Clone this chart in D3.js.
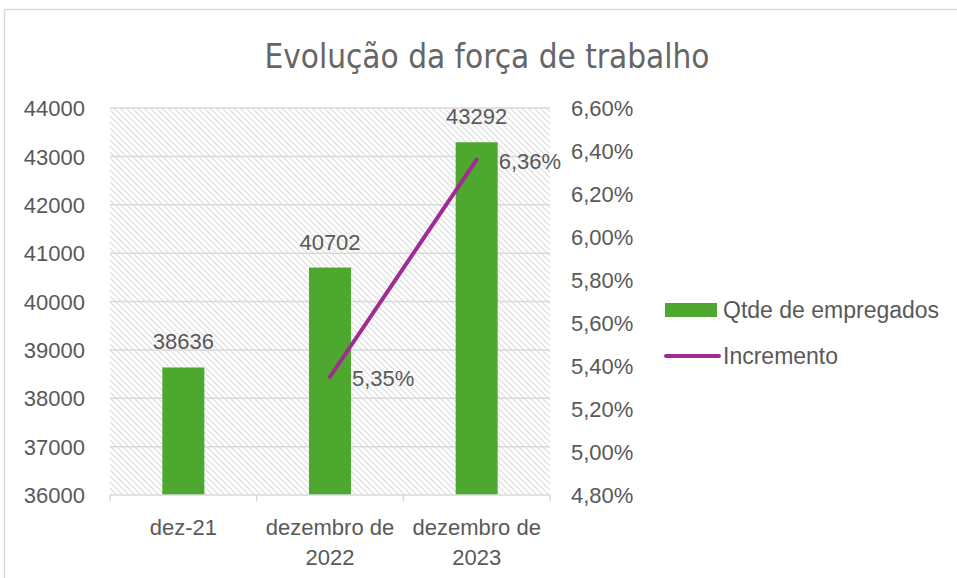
<!DOCTYPE html>
<html>
<head>
<meta charset="utf-8">
<script src="https://cdn.jsdelivr.net/npm/d3@7"></script>
<style>
  body { margin: 0; background: #fff; }
  svg text { font-family: "Liberation Sans", Arial, sans-serif; fill: #595959; }
</style>
</head>
<body>
<svg id="chart" width="957" height="578"></svg>
<script>
// data
var categories = [["dez-21"], ["dezembro de", "2022"], ["dezembro de", "2023"]];
var empregados = [38636, 40702, 43292];
var incremento = [null, 0.0535, 0.0636];
var leftTicks = [36000, 37000, 38000, 39000, 40000, 41000, 42000, 43000, 44000];
var rightTicks = [0.048, 0.050, 0.052, 0.054, 0.056, 0.058, 0.060, 0.062, 0.064, 0.066];
var seriesNames = ["Qtde de empregados", "Incremento"];

var green = "#4ea72e", purple = "#a02b93", grid = "#d9d9d9";
var svg = d3.select("#chart");

// plot area
var plotL = 110, plotR = 550, plotT = 108, plotB = 495;

var x = d3.scaleBand().domain(d3.range(categories.length)).range([plotL, plotR]);
var y = d3.scaleLinear().domain([36000, 44000]).range([plotB, plotT]);
var y2 = d3.scaleLinear().domain([0.048, 0.066]).range([plotB, plotT]);
var pct = function (v) { return d3.format(".2f")(v * 100).replace(".", ",") + "%"; };

// chart frame
svg.append("rect")
   .attr("x", 4.5).attr("y", 9.5)
   .attr("width", 980).attr("height", 600)
   .attr("fill", "none").attr("stroke", grid).attr("stroke-width", 1.5);

// diagonal hatch for the plot area
var pat = svg.append("defs").append("pattern")
   .attr("id", "hatch")
   .attr("patternUnits", "userSpaceOnUse")
   .attr("width", 6).attr("height", 6);
pat.append("path")
   .attr("d", "M-1,-1 L7,7 M-1,5 L1,7 M5,-1 L7,1")
   .attr("stroke", "#dcdcdc").attr("stroke-width", 1.2);

svg.append("rect")
   .attr("x", plotL).attr("y", plotT)
   .attr("width", plotR - plotL).attr("height", plotB - plotT)
   .attr("fill", "url(#hatch)");

// title
svg.append("text")
   .attr("x", 487).attr("y", 68)
   .attr("text-anchor", "middle")
   .style("font-family", "'Liberation Sans Narrow', 'DejaVu Sans Condensed', sans-serif")
   .style("font-size", "33px")
   .style("fill", "#666")
   .text("Evolução da força de trabalho");

// gridlines
svg.append("g").selectAll("line")
   .data(leftTicks.slice(1))
   .join("line")
   .attr("x1", plotL).attr("x2", plotR)
   .attr("y1", function (d) { return y(d); })
   .attr("y2", function (d) { return y(d); })
   .attr("stroke", grid).attr("stroke-width", 1.5);

// left axis
var gl = svg.append("g")
   .attr("transform", "translate(" + (plotL - 22) + ",0)")
   .call(d3.axisLeft(y).tickValues(leftTicks).tickSize(0).tickFormat(d3.format("d")));
gl.select(".domain").remove();
gl.selectAll("text").style("font-size", "22px").attr("dy", "0.35em");

// right axis
var gr = svg.append("g")
   .attr("transform", "translate(" + (plotR + 18) + ",0)")
   .call(d3.axisRight(y2).tickValues(rightTicks).tickSize(0).tickFormat(pct));
gr.select(".domain").remove();
gr.selectAll("text").style("font-size", "22px").attr("dy", "0.35em");

// bars
var barW = 42;
svg.append("g").selectAll("rect")
   .data(empregados)
   .join("rect")
   .attr("x", function (d, i) { return x(i) + x.bandwidth() / 2 - barW / 2; })
   .attr("y", function (d) { return y(d); })
   .attr("width", barW)
   .attr("height", function (d) { return plotB - y(d); })
   .attr("fill", green);

svg.append("g").selectAll("text")
   .data(empregados)
   .join("text")
   .attr("x", function (d, i) { return x(i) + x.bandwidth() / 2; })
   .attr("y", function (d) { return y(d) - 18; })
   .attr("text-anchor", "middle")
   .style("font-size", "22px")
   .text(function (d) { return d; });

// x axis line and ticks
svg.append("line")
   .attr("x1", plotL).attr("x2", plotR)
   .attr("y1", plotB).attr("y2", plotB)
   .attr("stroke", grid).attr("stroke-width", 1.5);
svg.append("g").selectAll("line")
   .data(d3.range(categories.length + 1))
   .join("line")
   .attr("x1", function (i) { return plotL + i * x.step(); })
   .attr("x2", function (i) { return plotL + i * x.step(); })
   .attr("y1", plotB).attr("y2", plotB + 6)
   .attr("stroke", grid).attr("stroke-width", 1.5);

// category labels
svg.append("g").selectAll("text")
   .data(categories)
   .join("text")
   .attr("text-anchor", "middle")
   .style("font-size", "22px")
   .each(function (d, i) {
     var t = d3.select(this);
     d.forEach(function (line, k) {
       t.append("tspan")
        .attr("x", x(i) + x.bandwidth() / 2)
        .attr("y", 535 + k * 30)
        .text(line);
     });
   });

// increment line
var pts = incremento.map(function (v, i) { return [i, v]; })
                    .filter(function (p) { return p[1] !== null; });
svg.append("path")
   .datum(pts)
   .attr("fill", "none")
   .attr("stroke", purple)
   .attr("stroke-width", 4)
   .attr("stroke-linecap", "round")
   .attr("d", d3.line()
     .x(function (p) { return x(p[0]) + x.bandwidth() / 2; })
     .y(function (p) { return y2(p[1]); }));

svg.append("g").selectAll("text")
   .data(pts)
   .join("text")
   .attr("x", function (p) { return x(p[0]) + x.bandwidth() / 2 + 22; })
   .attr("y", function (p) { return y2(p[1]) + 2; })
   .attr("dy", "0.35em")
   .style("font-size", "22px")
   .text(function (p) { return pct(p[1]); });

// legend
var lg = svg.append("g").attr("transform", "translate(665,0)");
lg.append("rect")
  .attr("x", 0).attr("y", 303).attr("width", 52).attr("height", 14)
  .attr("fill", green);
lg.append("line")
  .attr("x1", 1).attr("x2", 54).attr("y1", 356).attr("y2", 356)
  .attr("stroke", purple).attr("stroke-width", 4).attr("stroke-linecap", "round");
lg.selectAll("text.leg")
  .data(seriesNames)
  .join("text")
  .attr("class", "leg")
  .attr("x", 58)
  .attr("y", function (d, i) { return 310 + i * 46; })
  .attr("dy", "0.35em")
  .style("font-size", "23px")
  .text(function (d) { return d; });
</script>
</body>
</html>
